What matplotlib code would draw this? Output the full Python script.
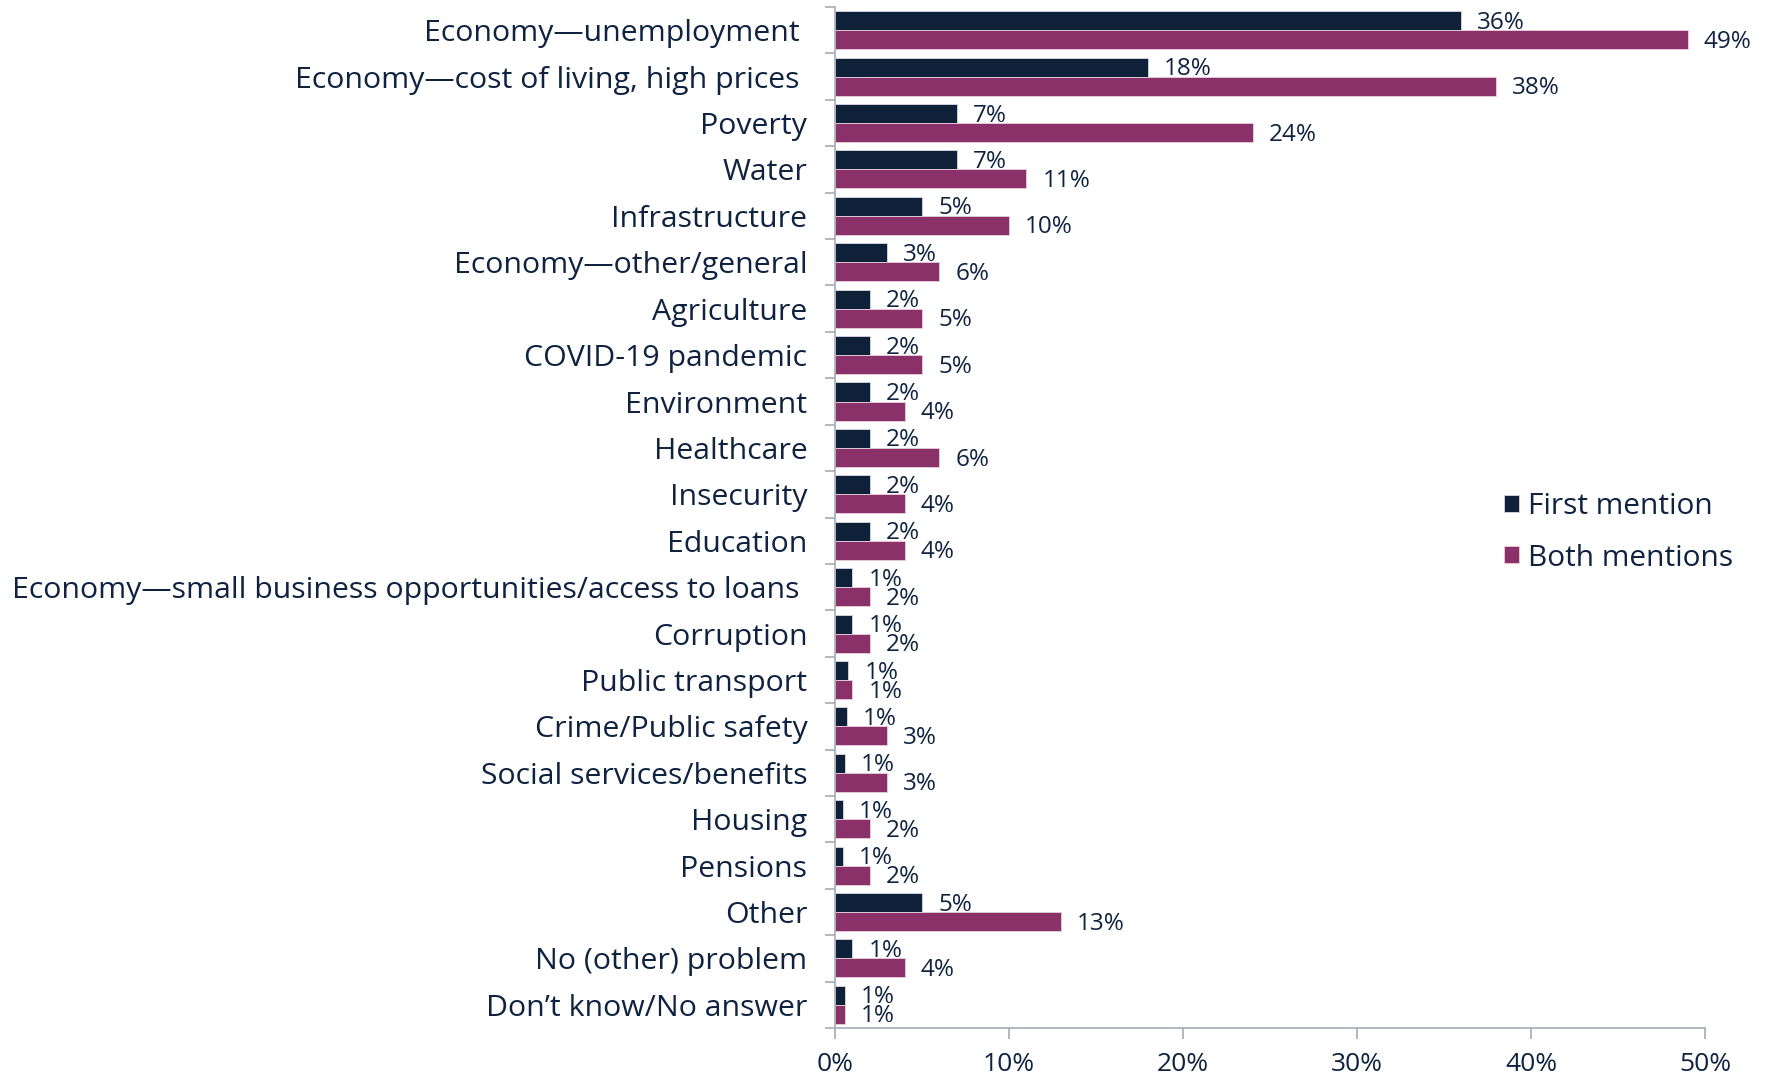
import matplotlib
matplotlib.use("Agg")
import matplotlib.pyplot as plt
import numpy as np

categories = [
    "Economy\u2014unemployment ",
    "Economy\u2014cost of living, high prices ",
    "Poverty",
    "Water",
    "Infrastructure",
    "Economy\u2014other/general",
    "Agriculture",
    "COVID-19 pandemic",
    "Environment",
    "Healthcare",
    "Insecurity",
    "Education",
    "Economy\u2014small business opportunities/access to loans ",
    "Corruption",
    "Public transport",
    "Crime/Public safety",
    "Social services/benefits",
    "Housing",
    "Pensions",
    "Other",
    "No (other) problem",
    "Don\u2019t know/No answer",
]
first_mention = [36, 18, 7, 7, 5, 3, 2, 2, 2, 2, 2, 2, 1, 1, 0.77, 0.67, 0.56, 0.46, 0.46, 5, 1, 0.56]
both_mentions = [49, 38, 24, 11, 10, 6, 5, 5, 4, 6, 4, 4, 2, 2, 1, 3, 3, 2, 2, 13, 4, 0.56]
first_labels = ["36%", "18%", "7%", "7%", "5%", "3%", "2%", "2%", "2%", "2%", "2%", "2%",
                "1%", "1%", "1%", "1%", "1%", "1%", "1%", "5%", "1%", "1%"]
both_labels = ["49%", "38%", "24%", "11%", "10%", "6%", "5%", "5%", "4%", "6%", "4%", "4%",
               "2%", "2%", "1%", "3%", "3%", "2%", "2%", "13%", "4%", "1%"]
xticks = [0, 10, 20, 30, 40, 50]
xtick_labels = ["0%", "10%", "20%", "30%", "40%", "50%"]

navy = "#0e2139"
purple = "#8b3169"
text_col = "#0f2340"
axis_col = "#a6abb5"

plt.rcParams['font.family'] = ['Open Sans', 'DejaVu Sans']

fig = plt.figure(figsize=(17.67, 10.82), dpi=100)
ax = fig.add_axes([0.4726, 0.0499, 0.4923, 0.9436])

n = len(categories)
y = np.arange(n)
h = 0.41
b1 = ax.barh(y - h / 2, first_mention, height=h, color=navy, edgecolor="#d8dbe0", linewidth=0.6, label="First mention")
b2 = ax.barh(y + h / 2, both_mentions, height=h, color=purple, edgecolor="#e8d0de", linewidth=0.6, label="Both mentions")

for rect, lab in zip(b1, first_labels):
    ax.annotate(lab, (rect.get_width(), rect.get_y() + rect.get_height() / 2),
                xytext=(11.5, -1.5), textcoords="offset points", va="center", ha="left",
                fontsize=17.5, color=text_col)
for rect, lab in zip(b2, both_labels):
    ax.annotate(lab, (rect.get_width(), rect.get_y() + rect.get_height() / 2),
                xytext=(11.5, -1.5), textcoords="offset points", va="center", ha="left",
                fontsize=17.5, color=text_col)

ax.set_ylim(n - 0.5, -0.5)
ax.set_xlim(0, 50)
ax.set_xticks(xticks)
ax.set_xticklabels(xtick_labels, fontsize=19, color=text_col)

ax.set_yticks(y)
ax.set_yticklabels(categories, fontsize=21.8, color=text_col)
ax.tick_params(axis="y", length=0, pad=20)
ax.set_yticks(np.arange(-0.5, n, 1), minor=True)
ax.tick_params(axis="y", which="minor", length=7, color=axis_col, width=1.2)
ax.tick_params(axis="x", length=8, color=axis_col, width=1.2, pad=9)

for s in ["top", "right"]:
    ax.spines[s].set_visible(False)
for s in ["left", "bottom"]:
    ax.spines[s].set_color(axis_col)
    ax.spines[s].set_linewidth(1.2)

leg = fig.legend(handles=[b1, b2], labels=["First mention", "Both mentions"],
                 loc="center left", bbox_to_anchor=(0.836, 0.508), frameon=False,
                 fontsize=21.5, handlelength=0.5, handleheight=0.5, handletextpad=0.3,
                 labelspacing=0.75, labelcolor=text_col)

fig.savefig("out.png", dpi=100)
